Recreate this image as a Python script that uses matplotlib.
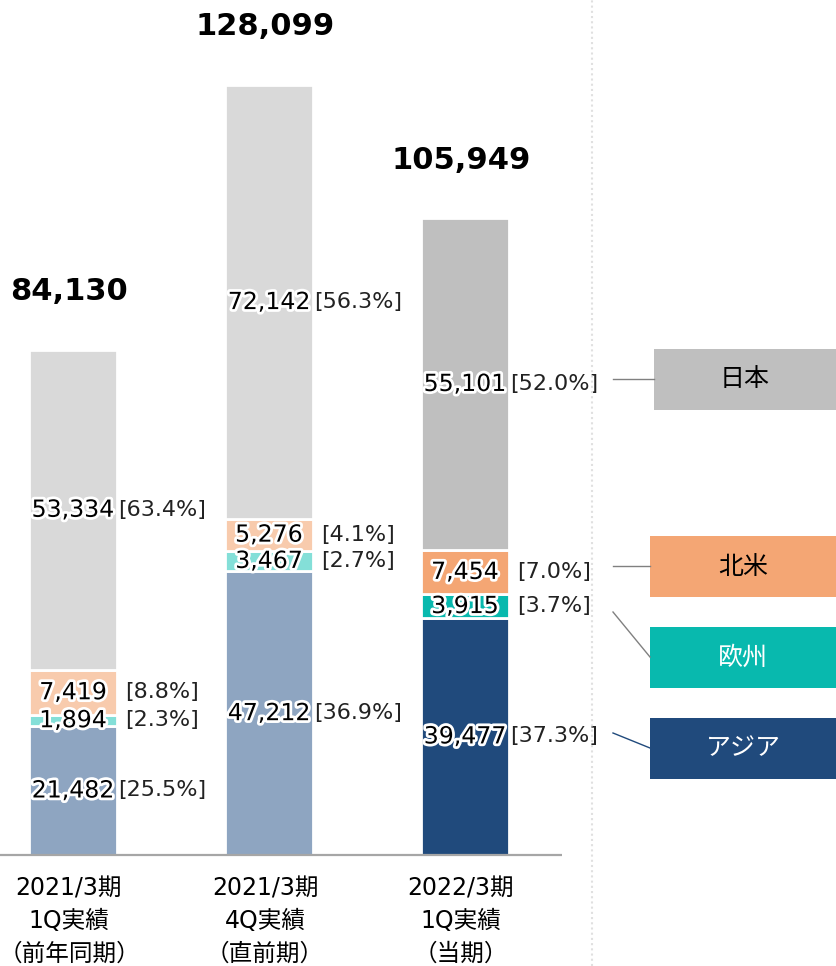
import matplotlib.pyplot as plt
import matplotlib.patheffects as pe

plt.rcParams['font.family'] = ['DejaVu Sans', 'Noto Sans CJK JP']

# データ (百万円)
cat_lines = [
    ['2021/3期', '1Q実績', '（前年同期）'],
    ['2021/3期', '4Q実績', '（直前期）'],
    ['2022/3期', '1Q実績', '（当期）'],
]
asia = [21482, 47212, 39477]
europe = [1894, 3467, 3915]
namerica = [7419, 5276, 7454]
japan = [53334, 72142, 55101]
totals = [84130, 128099, 105949]

pct_asia = ['25.5', '36.9', '37.3']
pct_europe = ['2.3', '2.7', '3.7']
pct_namerica = ['8.8', '4.1', '7.0']
pct_japan = ['63.4', '56.3', '52.0']

regions = ['アジア', '欧州', '北米', '日本']

# 色: 過去期は淡色, 当期は濃色
col_past = ['#8ea5c1', '#84dfd8', '#f8cbad', '#d9d9d9']
col_now = ['#204a7c', '#08b9ae', '#f4a674', '#bfbfbf']

W, H = 836, 966
fig = plt.figure(figsize=(W / 100, H / 100), dpi=100)
ax = fig.add_axes([0, 0, 1, 1])
ax.set_xlim(-0.372, 3.893)
ax.set_ylim(-18470, 142300)
ax.axis('off')

glow = [pe.withStroke(linewidth=4, foreground='white')]
bar_w = 0.449
series = [asia, europe, namerica, japan]
pcts = [pct_asia, pct_europe, pct_namerica, pct_japan]

for i in range(3):
    cols = col_now if i == 2 else col_past
    bottom = 0
    for k in range(4):
        v = series[k][i]
        ax.bar(i, v, bar_w, bottom=bottom, color=cols[k], edgecolor='white', lw=2)
        yc = bottom + v / 2
        lab = f'{v:,}'
        ax.text(i, yc, lab, ha='center', va='center', fontsize=17,
                color='black', path_effects=glow)
        off = 0.008 if len(lab) > 5 else 0.04
        ax.text(i + bar_w / 2 + off, yc, f'[{pcts[k][i]}%]', ha='left',
                va='center', fontsize=16, color='#222222')
        bottom += v
    ax.annotate(f'{totals[i]:,}', (i - 0.02, totals[i]), xytext=(0, 42),
                textcoords='offset points', ha='center', va='center',
                fontsize=22, fontweight='bold')
    for j, line in enumerate(cat_lines[i]):
        ax.annotate(line, (i - 0.02, 0), xytext=(0, -24 - 23.5 * j),
                    textcoords='offset points', ha='center', va='center',
                    fontsize=17)

# ベースライン
ax.plot([-0.372, 2.495], [0, 0], color='#a6a6a6', lw=1.6, solid_capstyle='butt')


def fx(px):
    return px / W


def fy(py):
    return 1 - py / H


# 区切りの点線
fig.add_artist(plt.Line2D([fx(592), fx(592)], [0, 1], color='#e0e0e0',
                          lw=1.5, ls=(0, (1, 1.5))))

# 凡例ボックス
boxes = [
    ('日本', 654, 349, 410, col_now[3], 'black', (613, 379), (654, 379), '#808080'),
    ('北米', 650, 536, 597, col_now[2], 'black', (613, 566), (650, 566), '#808080'),
    ('欧州', 650, 627, 688, col_now[1], 'white', (613, 612), (650, 657), '#808080'),
    ('アジア', 650, 718, 779, col_now[0], 'white', (613, 733), (650, 748), col_now[0]),
]
for name, x0, y0, y1, fc, tc, p0, p1, lc in boxes:
    fig.add_artist(plt.Rectangle((fx(x0), fy(y1)), fx(W - x0), (y1 - y0) / H,
                                 facecolor=fc, edgecolor='none'))
    fig.text(fx((x0 + W) / 2), fy((y0 + y1) / 2), name, ha='center',
             va='center', fontsize=18, color=tc,
             family=['Noto Sans CJK JP', 'DejaVu Sans'])
    fig.add_artist(plt.Line2D([fx(p0[0]), fx(p1[0])], [fy(p0[1]), fy(p1[1])],
                              color=lc, lw=1))

fig.savefig('out.png', dpi=100)
